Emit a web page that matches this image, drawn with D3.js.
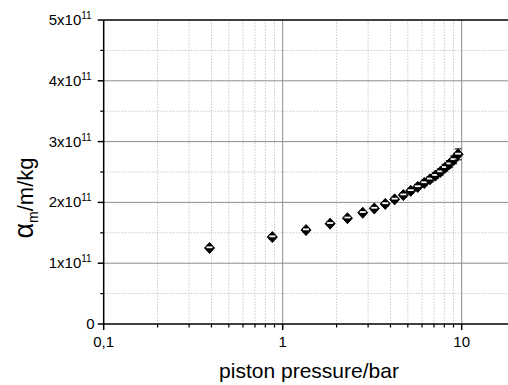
<!DOCTYPE html>
<html>
<head>
<meta charset="utf-8">
<script src="https://cdn.jsdelivr.net/npm/d3@7"></script>
<style>
  body { margin: 0; background: #fff; }
  text { font-family: 'Liberation Sans', Arial, sans-serif; fill: #000; }
</style>
</head>
<body>
<div id="chart"></div>
<script>
// piston pressure in bar
const pressure = [0.39, 0.875, 1.35, 1.84, 2.30, 2.80, 3.25, 3.74, 4.22, 4.72,
  5.19, 5.68, 6.18, 6.65, 7.12, 7.59, 8.07, 8.53, 9.02, 9.55];
// alpha_m in units of 1e11 m/kg
const alpha = [1.25, 1.43, 1.545, 1.65, 1.74, 1.83, 1.90, 1.975, 2.05, 2.12,
  2.19, 2.255, 2.32, 2.38, 2.44, 2.50, 2.57, 2.63, 2.70, 2.79];
const alphaErr = [0.03, 0.03, 0.03, 0.03, 0.03, 0.03, 0.035, 0.035, 0.035, 0.04,
  0.04, 0.04, 0.045, 0.045, 0.05, 0.05, 0.055, 0.06, 0.065, 0.09];
const xTicks = [0.1, 1, 10];
const xTickLabels = ['0,1', '1', '10'];
const yTicks = [0, 1, 2, 3, 4, 5];

const width = 508, height = 385;
const margin = { top: 20, left: 103.7, bottom: 61 };

const svg = d3.select('#chart').append('svg')
  .attr('width', width)
  .attr('height', height);

const x = d3.scaleLog().domain([0.1, 20]).range([margin.left, margin.left + 179 * Math.log10(200)]);
const y = d3.scaleLinear().domain([0, 5]).range([height - margin.bottom, margin.top]);

const x0 = x.range()[0], x1 = width;
const y0 = y(0), y1 = y(5);

// minor grid
const xMinor = [];
[0.1, 1, 10].forEach(d => { for (let k = 2; k <= 9; k++) if (d * k <= 20) xMinor.push(d * k); });
const yMinor = d3.range(0.5, 5, 1);

const grid = svg.append('g');
grid.selectAll('.xminor').data(xMinor).enter().append('line')
  .attr('x1', d => x(d)).attr('x2', d => x(d))
  .attr('y1', y0).attr('y2', y1)
  .attr('stroke', '#c8c8c8').attr('stroke-dasharray', '1.5,1.5');
grid.selectAll('.yminor').data(yMinor).enter().append('line')
  .attr('x1', x0).attr('x2', x1)
  .attr('y1', d => y(d)).attr('y2', d => y(d))
  .attr('stroke', '#c8c8c8').attr('stroke-dasharray', '1.5,1.5');
grid.selectAll('.xmajor').data([1, 10]).enter().append('line')
  .attr('x1', d => x(d)).attr('x2', d => x(d))
  .attr('y1', y0).attr('y2', y1)
  .attr('stroke', '#8c8c8c');
grid.selectAll('.ymajor').data([1, 2, 3, 4]).enter().append('line')
  .attr('x1', x0).attr('x2', x1)
  .attr('y1', d => y(d)).attr('y2', d => y(d))
  .attr('stroke', '#8c8c8c');

// axes frame
svg.append('line').attr('x1', x0).attr('x2', x1).attr('y1', y0).attr('y2', y0)
  .attr('stroke', '#000').attr('stroke-width', 1.5);
svg.append('line').attr('x1', x0).attr('x2', x1).attr('y1', y1).attr('y2', y1)
  .attr('stroke', '#000').attr('stroke-width', 1.5);
svg.append('line').attr('x1', x0).attr('x2', x0).attr('y1', y1).attr('y2', y0)
  .attr('stroke', '#000').attr('stroke-width', 1.5);

// ticks
svg.selectAll('.xt').data(xTicks).enter().append('line')
  .attr('x1', d => x(d)).attr('x2', d => x(d))
  .attr('y1', y0).attr('y2', y0 + 6)
  .attr('stroke', '#000').attr('stroke-width', 1.5);
svg.selectAll('.xtm').data(xMinor).enter().append('line')
  .attr('x1', d => x(d)).attr('x2', d => x(d))
  .attr('y1', y0).attr('y2', y0 + 3.5)
  .attr('stroke', '#000').attr('stroke-width', 1.2);
svg.selectAll('.yt').data(yTicks).enter().append('line')
  .attr('x1', x0 - 6).attr('x2', x0)
  .attr('y1', d => y(d)).attr('y2', d => y(d))
  .attr('stroke', '#000').attr('stroke-width', 1.5);
svg.selectAll('.ytm').data(yMinor).enter().append('line')
  .attr('x1', x0 - 3.5).attr('x2', x0)
  .attr('y1', d => y(d)).attr('y2', d => y(d))
  .attr('stroke', '#000').attr('stroke-width', 1.2);

// tick labels
svg.selectAll('.xl').data(xTicks).enter().append('text')
  .attr('x', d => x(d)).attr('y', y0 + 23)
  .attr('text-anchor', 'middle')
  .style('font-size', '15px')
  .text((d, i) => xTickLabels[i]);

const yl = svg.selectAll('.yl').data(yTicks).enter().append('text')
  .attr('x', x0 - 12).attr('y', d => y(d) + 5)
  .attr('text-anchor', 'end')
  .style('font-size', '15px');
yl.filter(d => d === 0).attr('x', x0 - 9).text('0');
yl.filter(d => d !== 0).each(function (d) {
  const t = d3.select(this);
  t.append('tspan').text(d + 'x10');
  t.append('tspan').attr('dy', -6).style('font-size', '10px').text('11');
});

// axis titles
svg.append('text')
  .attr('x', 309).attr('y', 378)
  .attr('text-anchor', 'middle')
  .style('font-size', '21px')
  .text('piston pressure/bar');

const yt = svg.append('text')
  .attr('transform', 'translate(33,198) rotate(-90)')
  .attr('text-anchor', 'middle')
  .style('font-size', '22px');
yt.append('tspan').style('font-size', '27px').text('α');
yt.append('tspan').attr('dy', 5).style('font-size', '14px').text('m');
yt.append('tspan').attr('dy', -5).text('/m/kg');

// data points with error bars
const pts = svg.append('g').selectAll('g').data(pressure).enter().append('g')
  .attr('transform', (d, i) => 'translate(' + x(d) + ',' + y(alpha[i]) + ')');

pts.each(function (d, i) {
  const g = d3.select(this);
  const top = y(alpha[i] + alphaErr[i]) - y(alpha[i]);
  const bot = y(alpha[i] - alphaErr[i]) - y(alpha[i]);
  g.append('line').attr('x1', 0).attr('x2', 0).attr('y1', top).attr('y2', bot).attr('stroke', '#000');
  g.selectAll('.cap').data([top, bot]).enter().append('line')
    .attr('x1', -3.5).attr('x2', 3.5)
    .attr('y1', e => e).attr('y2', e => e)
    .attr('stroke', '#000');
});

pts.append('path')
  .attr('d', 'M0,-5.5L5,0L0,5.5L-5,0Z')
  .attr('fill', '#000').attr('stroke', '#000');
pts.append('line')
  .attr('x1', -3).attr('x2', 3)
  .attr('y1', -0.7).attr('y2', -0.7)
  .attr('stroke', '#fff').attr('stroke-width', 1.8);
</script>
</body>
</html>
